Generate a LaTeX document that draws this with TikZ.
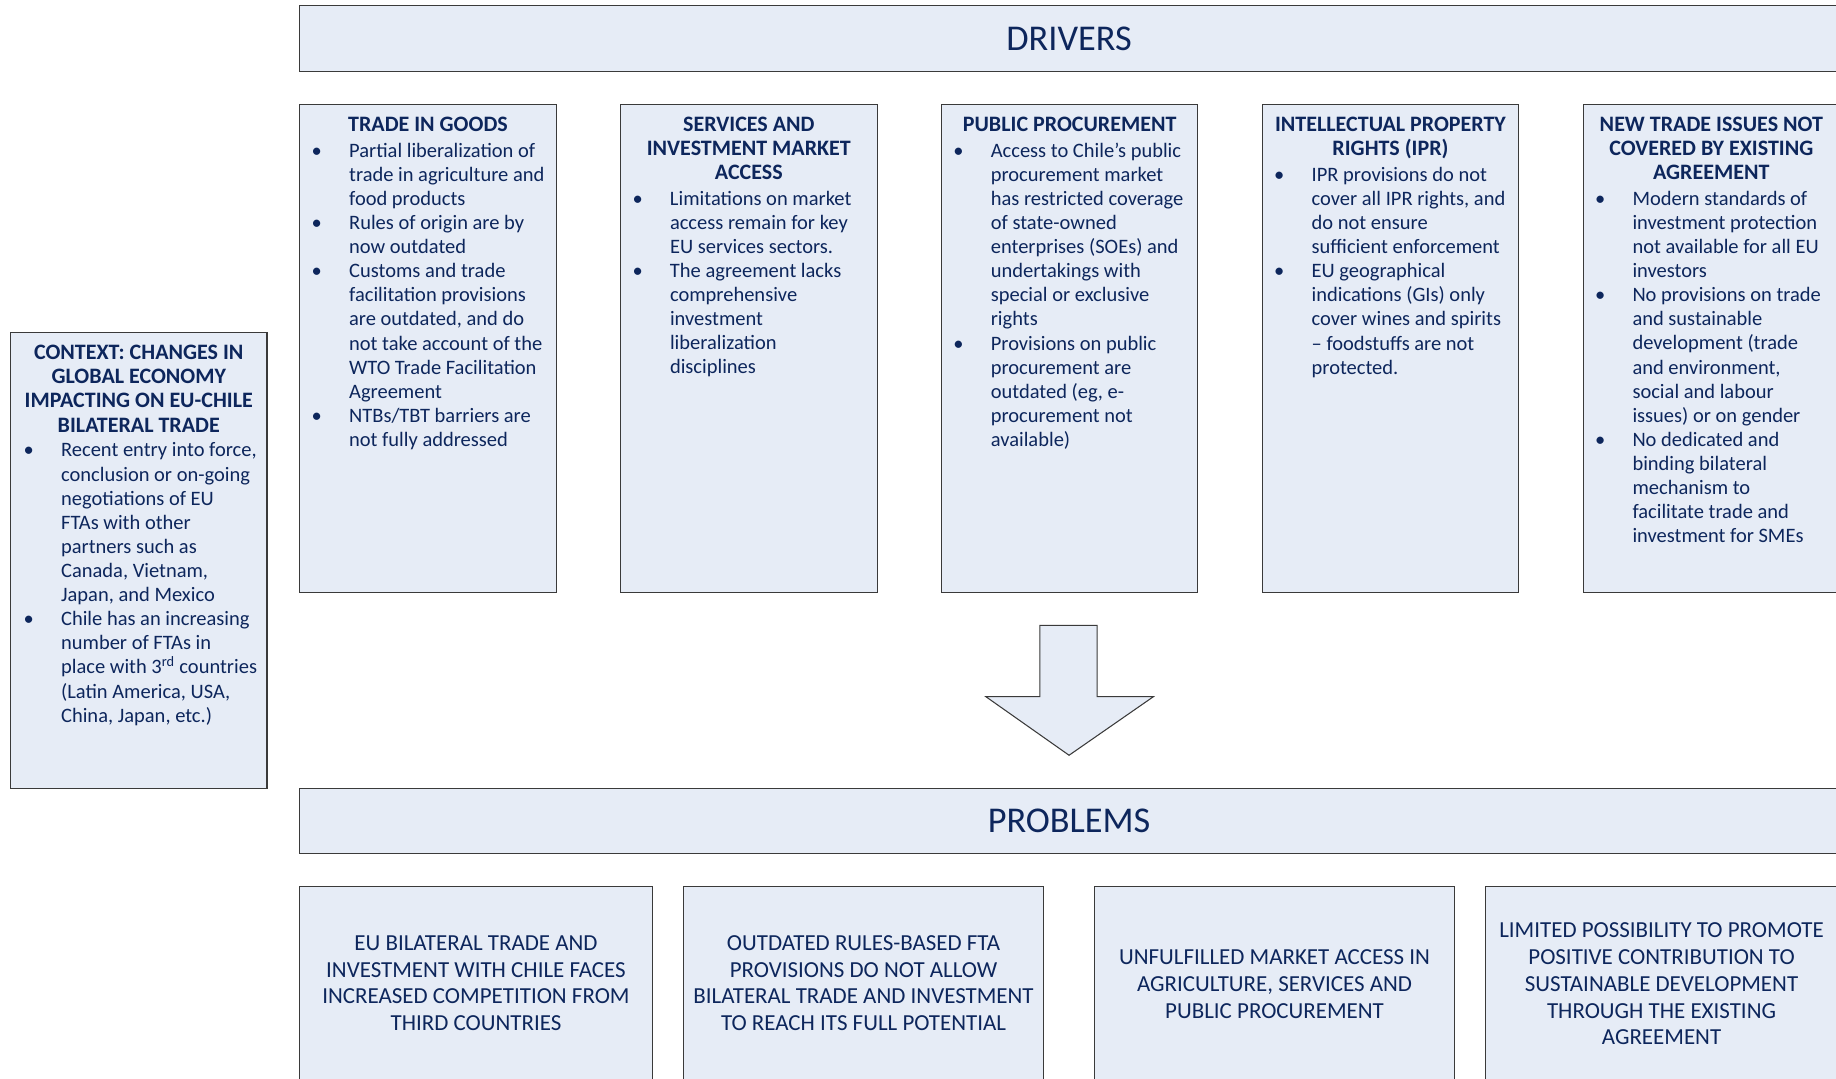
\documentclass[tikz,border=0pt]{standalone}
\usepackage{fontspec}
\setmainfont{Carlito}
\definecolor{boxfill}{HTML}{E6ECF6}
\definecolor{navy}{HTML}{0D265C}
\definecolor{edge}{HTML}{3A3A3A}
\newcommand\bodyfont{\fontsize{17.5}{20.6}\selectfont}
\newcommand\ttlfont{\fontsize{18.8}{20.6}\selectfont\bfseries}
\newcommand\probfont{\fontsize{19.6}{23}\selectfont}
\newcommand\headfont{\fontsize{31}{36}\selectfont}
\newcommand\bul{\leavevmode\llap{\makebox[32pt][l]{\textbullet}}}
\newcommand\fs{\rule{0pt}{16pt}}
\tikzset{
  box/.style={draw=edge, line width=0.9pt, fill=boxfill, anchor=north west, inner sep=0pt, outer sep=0pt},
  ttl/.style={anchor=north, align=center, inner sep=0pt, text=navy, font=\ttlfont},
  lst/.style={anchor=north west, align=left, inner sep=0pt, text=navy, font=\bodyfont},
  prob/.style={anchor=north, align=center, inner sep=0pt, text=navy, font=\probfont},
  head/.style={text=navy, font=\headfont, inner sep=0pt}
}
\begin{document}
\begin{tikzpicture}[x=1pt,y=-1pt]
\useasboundingbox (0,0) rectangle (1568,921);
\clip (0,0) rectangle (1568,921);
% header bands
\node[box, minimum width=1314pt, minimum height=56pt] (drv) at (256,5) {};
\node[head] (drvt) at (913,33) {DRIVERS};
\node[box, minimum width=1314pt, minimum height=56pt] (prb) at (256,673) {};
\node[head] (prbt) at (913,701) {PROBLEMS};
% driver boxes
\node[box, minimum width=219pt, minimum height=417pt] (d1) at (256,89) {};
\node[box, minimum width=219pt, minimum height=417pt] (d2) at (530,89) {};
\node[box, minimum width=219pt, minimum height=417pt] (d3) at (804,89) {};
\node[box, minimum width=219pt, minimum height=417pt] (d4) at (1078,89) {};
\node[box, minimum width=219pt, minimum height=417pt] (d5) at (1352,89) {};
\node[box, minimum width=219pt, minimum height=389pt] (ctx) at (9,284) {};
% box 1
\node[ttl] (t1) at (365.5,96) {\fs TRADE IN GOODS};
\node[lst] (l1) at (298,118) {\fs\bul Partial liberalization of\\ trade in agriculture and\\ food products\\
\bul Rules of origin are by\\ now outdated\\
\bul Customs and trade\\ facilitation provisions\\ are outdated, and do\\ not take account of the\\ WTO Trade Facilitation\\ Agreement\\
\bul NTBs/TBT barriers are\\ not fully addressed};
% box 2
\node[ttl] (t2) at (639.5,96) {\fs SERVICES AND\\ INVESTMENT MARKET\\ ACCESS};
\node[lst] (l2) at (572,159) {\fs\bul Limitations on market\\ access remain for key\\ EU services sectors.\\
\bul The agreement lacks\\ comprehensive\\ investment\\ liberalization\\ disciplines};
% box 3
\node[ttl] (t3) at (913.5,96) {\fs PUBLIC PROCUREMENT};
\node[lst] (l3) at (846,118) {\fs\bul Access to Chile’s public\\ procurement market\\ has restricted coverage\\ of state-owned\\ enterprises (SOEs) and\\ undertakings with\\ special or exclusive\\ rights\\
\bul Provisions on public\\ procurement are\\ outdated (eg, e-\\ procurement not\\ available)};
% box 4
\node[ttl] (t4) at (1187.5,96) {\fs INTELLECTUAL PROPERTY\\ RIGHTS (IPR)};
\node[lst] (l4) at (1120,138.6) {\fs\bul IPR provisions do not\\ cover all IPR rights, and\\ do not ensure\\ sufficient enforcement\\
\bul EU geographical\\ indications (GIs) only\\ cover wines and spirits\\ – foodstuffs are not\\ protected.};
% box 5
\node[ttl] (t5) at (1461.5,96) {\fs NEW TRADE ISSUES NOT\\ COVERED BY EXISTING\\ AGREEMENT};
\node[lst] (l5) at (1394,159) {\fs\bul Modern standards of\\ investment protection\\ not available for all EU\\ investors\\
\bul No provisions on trade\\ and sustainable\\ development (trade\\ and environment,\\ social and labour\\ issues) or on gender\\
\bul No dedicated and\\ binding bilateral\\ mechanism to\\ facilitate trade and\\ investment for SMEs};
% context
\node[ttl] (tc) at (118.5,291) {\fs CONTEXT: CHANGES IN\\ GLOBAL ECONOMY\\ IMPACTING ON EU-CHILE\\ BILATERAL TRADE};
\node[lst] (lc) at (52,374) {\fs\bul Recent entry into force,\\ conclusion or on-going\\ negotiations of EU\\ FTAs with other\\ partners such as\\ Canada, Vietnam,\\ Japan, and Mexico\\
\bul Chile has an increasing\\ number of FTAs in\\ place with 3\textsuperscript{rd} countries\\ (Latin America, USA,\\ China, Japan, etc.)};
% arrow
\draw[draw=edge, line width=0.9pt, fill=boxfill, line join=miter]
  (888,534) -- (937,534) -- (937,595) -- (985,595) -- (913,645) -- (842,595) -- (888,595) -- cycle;
% problem boxes
\node[box, minimum width=301pt, minimum height=190pt] (p1) at (256,757) {};
\node[box, minimum width=307pt, minimum height=190pt] (p2) at (584,757) {};
\node[box, minimum width=307pt, minimum height=190pt] (p3) at (935,757) {};
\node[box, minimum width=302pt, minimum height=190pt] (p4) at (1269,757) {};
\node[prob] (pt1) at (406.5,795.2) {\fs EU BILATERAL TRADE AND\\ INVESTMENT WITH CHILE FACES\\ INCREASED COMPETITION FROM\\ THIRD COUNTRIES};
\node[prob] (pt2) at (737.5,795.2) {\fs OUTDATED RULES-BASED FTA\\ PROVISIONS DO NOT ALLOW\\ BILATERAL TRADE AND INVESTMENT\\ TO REACH ITS FULL POTENTIAL};
\node[prob] (pt3) at (1088.5,807.2) {\fs UNFULFILLED MARKET ACCESS IN\\ AGRICULTURE, SERVICES AND\\ PUBLIC PROCUREMENT};
\node[prob] (pt4) at (1419,784.2) {\fs LIMITED POSSIBILITY TO PROMOTE\\ POSITIVE CONTRIBUTION TO\\ SUSTAINABLE DEVELOPMENT\\ THROUGH THE EXISTING\\ AGREEMENT};
\end{tikzpicture}
\end{document}
